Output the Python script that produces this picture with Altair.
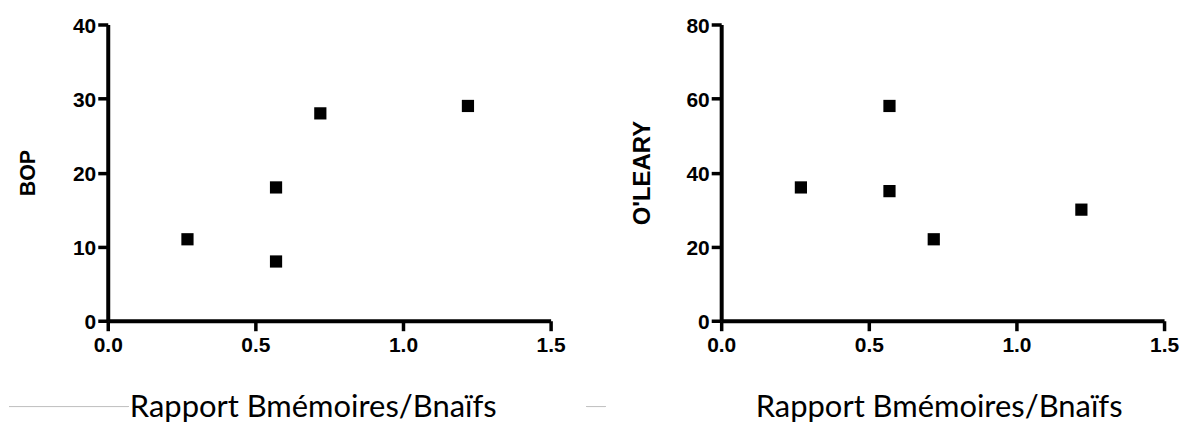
import altair as alt
import pandas as pd

# ---- data ----
ratio = [0.27, 0.57, 0.57, 0.72, 1.22]
bop = [11, 18, 8, 28, 29]
oleary_ratio = [0.27, 0.57, 0.57, 0.72, 1.22]
oleary = [36, 58, 35, 22, 30]

x_ticks = [0.0, 0.5, 1.0, 1.5]
bop_ticks = [0, 10, 20, 30, 40]
oleary_ticks = [0, 20, 40, 60, 80]
x_title = "Rapport Bmémoires/Bnaïfs"

df_left = pd.DataFrame({"ratio": ratio, "val": bop})
df_right = pd.DataFrame({"ratio": oleary_ratio, "val": oleary})

W, H = 444, 297
AX_FONT = "Liberation Sans"


def x_axis(title_x):
    return alt.Axis(
        values=x_ticks, format=".1f", grid=False, labelFlush=False,
        domainColor="black", domainWidth=4,
        tickColor="black", tickWidth=3.5, tickSize=10,
        labelFont=AX_FONT, labelFontSize=21, labelFontWeight="bold",
        labelColor="black", labelPadding=4,
        title=x_title, titleFont="Lato", titleFontSize=31,
        titleFontWeight="normal", titleColor="black",
        titleX=title_x, titleY=96, titleAlign="center",
        titleBaseline="alphabetic",
    )


def y_axis(values, title, size):
    return alt.Axis(
        values=values, format="d", grid=False, labelFlush=False,
        domainColor="black", domainWidth=4,
        tickColor="black", tickWidth=3.5, tickSize=10,
        labelFont=AX_FONT, labelFontSize=21, labelFontWeight="bold",
        labelColor="black", labelPadding=2, labelOffset=2,
        title=title, titleFont=AX_FONT, titleFontSize=size,
        titleFontWeight="bold", titleColor="black",
        titleAngle=270, titleX=-79, titleY=H / 2,
        titleAlign="center", titleBaseline="middle",
    )


def panel(df, ymax, yticks, ytitle, ysize, title_x, lines):
    pts = alt.Chart(df).mark_square(size=150, color="black", opacity=1).encode(
        x=alt.X("ratio:Q", scale=alt.Scale(domain=[0, 1.5], nice=False, zero=True),
                axis=x_axis(title_x)),
        y=alt.Y("val:Q", scale=alt.Scale(domain=[0, ymax], nice=False),
                axis=y_axis(yticks, ytitle, ysize)),
    )
    layers = [pts]
    for (a, b) in lines:
        layers.append(
            alt.Chart(df).mark_rule(color="#c4c4c4", strokeWidth=1).encode(
                x=alt.value(a), x2=alt.value(b), y=alt.value(383)
            )
        )
    return alt.layer(*layers).properties(width=W, height=H)


left = panel(df_left, 40, bop_ticks, "BOP", 21.5, 205.5, [(-99, 21), (480, 499)])
right = panel(df_right, 80, oleary_ticks, "O'LEARY", 24, 218, [])

chart = alt.hconcat(left, right, spacing=24).properties(
    padding={"left": 0, "top": 7, "right": 5, "bottom": 5}
).configure(background="white").configure_view(stroke=None)

chart.save("out.html", embed_options={"renderer": "svg", "actions": False})
